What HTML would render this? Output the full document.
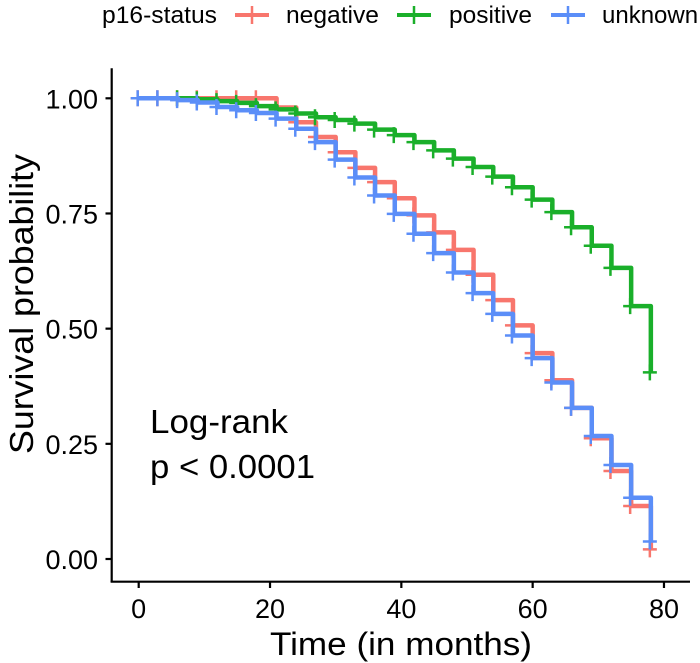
<!DOCTYPE html>
<html><head><meta charset="utf-8"><style>
html,body{margin:0;padding:0;background:#fff;}
svg{display:block;font-family:"Liberation Sans",Arial,sans-serif;}
</style></head><body>
<svg id="chart" width="700" height="663" viewBox="0 0 700 663">
  <g id="legend">
    <text x="102" y="23" font-size="24" textLength="115" lengthAdjust="spacingAndGlyphs">p16-status</text>
    <g>
      <line x1="235" y1="15" x2="269" y2="15" stroke="#F8766D" stroke-width="4"/>
      <line x1="252" y1="6" x2="252" y2="24" stroke="#F8766D" stroke-width="2.5"/>
      <text x="286" y="23" font-size="24" textLength="93" lengthAdjust="spacingAndGlyphs">negative</text>
    </g>
    <g>
      <line x1="397" y1="15" x2="431" y2="15" stroke="#1AAF2A" stroke-width="4"/>
      <line x1="414" y1="6" x2="414" y2="24" stroke="#1AAF2A" stroke-width="2.5"/>
      <text x="449" y="23" font-size="24" textLength="83" lengthAdjust="spacingAndGlyphs">positive</text>
    </g>
    <g>
      <line x1="551" y1="15" x2="585" y2="15" stroke="#5B8EF8" stroke-width="4"/>
      <line x1="568" y1="6" x2="568" y2="24" stroke="#5B8EF8" stroke-width="2.5"/>
      <text x="602" y="23" font-size="24">unknown</text>
    </g>
  </g>
  <g id="axes"></g>
  <g id="plot"></g>
  <text x="150" y="433" font-size="33" textLength="138" lengthAdjust="spacingAndGlyphs">Log-rank</text>
  <text x="150" y="478" font-size="33" textLength="165" lengthAdjust="spacingAndGlyphs">p &lt; 0.0001</text>
  <text x="401" y="655" font-size="32" text-anchor="middle" textLength="262" lengthAdjust="spacingAndGlyphs">Time (in months)</text>
  <text transform="translate(33,304) rotate(-90)" font-size="33" text-anchor="middle" textLength="300" lengthAdjust="spacingAndGlyphs">Survival probability</text>
</svg>
<script>
const xTicks = [0, 20, 40, 60, 80];
const yTicks = [0, 0.25, 0.5, 0.75, 1];
const yTickLabels = ["0.00", "0.25", "0.50", "0.75", "1.00"];

const negTimes = [21,24,27,30,33,36,39,42,45,48,51,54,57,60,63,66,69,72,75,78];
const negSurv = [1,0.98,0.948,0.916,0.883,0.849,0.818,0.783,0.746,0.709,0.671,0.617,0.562,0.507,0.447,0.388,0.328,0.262,0.191,0.115,0.021];
const negCensor = [0,3,6,9,12,15,18,21,24,27,30,33,36,39,42,45,48,51,54,57,60,63,66,69,72,75,78];

const posTimes = [9,12,15,18,21,24,27,30,33,36,39,42,45,48,51,54,57,60,63,66,69,72,75,78];
const posSurv = [1,0.998,0.994,0.99,0.983,0.976,0.967,0.959,0.953,0.945,0.932,0.92,0.905,0.887,0.869,0.851,0.83,0.807,0.78,0.753,0.72,0.68,0.632,0.549,0.405];
const posCensor = [6,9,12,15,18,21,24,27,30,33,36,39,42,45,48,51,54,57,60,63,66,69,72,75,78];

const unkTimes = [6,9,12,15,18,21,24,27,30,33,36,39,42,45,48,51,54,57,60,63,66,69,72,75,78];
const unkSurv = [1,0.996,0.991,0.981,0.974,0.968,0.956,0.934,0.905,0.867,0.828,0.789,0.749,0.706,0.664,0.622,0.577,0.532,0.485,0.436,0.383,0.328,0.267,0.204,0.133,0.038];
const unkCensor = [0,3,6,9,12,15,18,21,24,27,30,33,36,39,42,45,48,51,54,57,60,63,66,69,72,75,78];

const NS = "http://www.w3.org/2000/svg";
function xs(t){ return 138.7 + 6.566 * t; }
function ys(s){ return 559 - 460.7 * s; }
function mk(tag, attrs, parent){
  const e = document.createElementNS(NS, tag);
  for (const k in attrs) e.setAttribute(k, attrs[k]);
  parent.appendChild(e);
  return e;
}
const axes = document.getElementById('axes');
const yAxis = mk('line', {x1:111.7, y1:ys(1)-30, x2:111.7, y2:582, stroke:'#000', 'stroke-width':2.2}, axes);


const xAxis = mk('line', {x1:110.6, y1:581.7, x2:690, y2:581.7, stroke:'#000', 'stroke-width':2.2}, axes);


xTicks.forEach(function(v){
  const tk = mk('line', {x1:xs(v), y1:581.7, x2:xs(v), y2:588, stroke:'#000', 'stroke-width':2.2}, axes);
  
  
  const tl = mk('text', {x:xs(v), y:618, 'font-size':27, 'text-anchor':'middle', fill:'#000'}, axes);
  tl.textContent = String(v);
  
  
});
yTicks.forEach(function(v, i){
  const tk = mk('line', {x1:105.5, y1:ys(v), x2:111.7, y2:ys(v), stroke:'#000', 'stroke-width':2.2}, axes);
  
  
  const tl = mk('text', {x:98, y:ys(v)+10, 'font-size':27, 'text-anchor':'end', fill:'#000'}, axes);
  tl.textContent = yTickLabels[i];
  
  
});

const plot = document.getElementById('plot');
function survAt(times, surv, t){
  let s = surv[0];
  for (let i = 0; i < times.length; i++){ if (t >= times[i]) s = surv[i+1]; }
  return s;
}
function drawSeries(name, color, times, surv, censor){
  let d = 'M' + xs(0) + ',' + ys(surv[0]);
  for (let i = 0; i < times.length; i++){
    d += ' H' + xs(times[i]) + ' V' + ys(surv[i+1]);
  }
  const p = mk('path', {d:d, fill:'none', stroke:color, 'stroke-width':4.5, 'stroke-linejoin':'round'}, plot);
  
  
  censor.forEach(function(t){
    const s = survAt(times, surv, t);
    const cx = xs(t) - 1, cy = ys(s);
    const g = mk('path', {d:'M'+(cx-7)+','+cy+' H'+(cx+7)+' M'+cx+','+(cy-8)+' V'+(cy+8), stroke:color, 'stroke-width':2.5, fill:'none'}, plot);
    
    
  });
}
drawSeries('negative', '#F8766D', negTimes, negSurv, negCensor);
drawSeries('positive', '#1AAF2A', posTimes, posSurv, posCensor);
drawSeries('unknown', '#5B8EF8', unkTimes, unkSurv, unkCensor);
</script>
</body></html>
